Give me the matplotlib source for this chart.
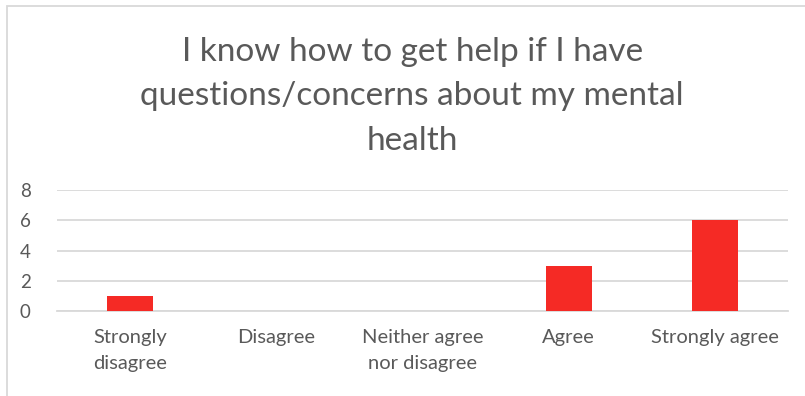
import matplotlib.pyplot as plt
from matplotlib.patches import Rectangle

categories = ['Strongly\ndisagree', 'Disagree', 'Neither agree\nnor disagree', 'Agree', 'Strongly agree']
counts = [1, 0, 0, 3, 6]
yticks = [0, 2, 4, 6, 8]
title = 'I know how to get help if I have\nquestions/concerns about my mental\nhealth'

plt.rcParams['font.family'] = ['Lato', 'DejaVu Sans']

fig = plt.figure(figsize=(8.05, 3.96), dpi=100)
ax = fig.add_axes([57 / 805, 1 - 311 / 396, (788 - 57) / 805, (311 - 190) / 396])

x = list(range(len(categories)))
ax.bar(x, counts, width=0.315, color='#f52a25', zorder=3)
ax.set_xlim(-0.5, len(categories) - 0.5)
ax.set_ylim(0, 8)
ax.set_yticks(yticks)
ax.set_xticks(x)
ax.set_xticklabels(categories, fontsize=14.5, color='#595959', linespacing=1.65)
ax.tick_params(axis='y', labelsize=13.5, labelcolor='#595959', length=0, pad=19)
ax.tick_params(axis='x', length=0, pad=13)
ax.grid(axis='y', color='#d9d9d9', linewidth=1.3, zorder=0)
for s in ['top', 'right', 'left']:
    ax.spines[s].set_visible(False)
ax.spines['bottom'].set_color('#d9d9d9')
ax.spines['bottom'].set_linewidth(1.3)

fig.text(0.512, 0.757, title, ha='center', va='center', fontsize=24,
         color='#595959', linespacing=1.6)

# chart frame, cut off on the right and bottom
fig.patches.append(Rectangle((7 / 805, -0.1), 1.2, 1 - 6 / 396 + 0.1,
                             transform=fig.transFigure, fill=False,
                             edgecolor='#d9d9d9', linewidth=1.3))

fig.savefig('out.png', dpi=100)
